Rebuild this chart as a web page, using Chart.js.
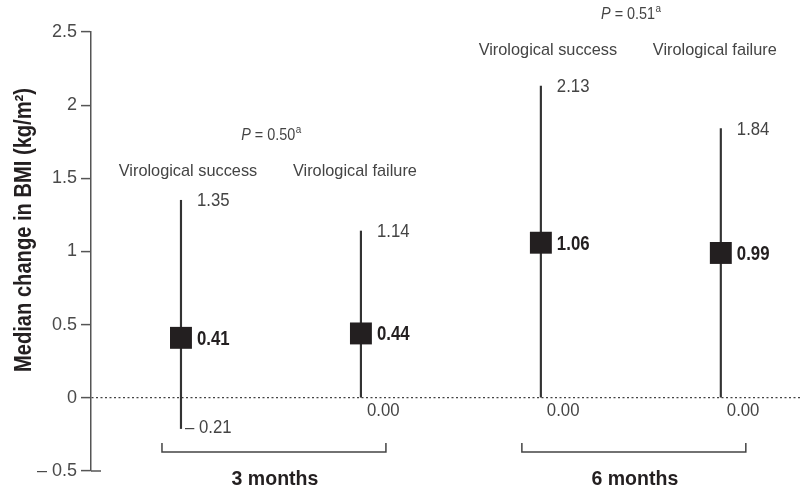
<!DOCTYPE html>
<html>
<head>
<meta charset="utf-8">
<script src="https://cdn.jsdelivr.net/npm/chart.js@4"></script>
<style>
  html, body { margin: 0; padding: 0; background: #ffffff; overflow: hidden; }
  #wrap { width: 800px; height: 489px; }
  canvas { display: block; }
</style>
</head>
<body>
<div id="wrap"><canvas id="c" width="800" height="489"></canvas></div>
<script>
// ---- data ----
const groups = ['3 months', '6 months'];
const categories = ['Virological success', 'Virological failure', 'Virological success', 'Virological failure'];
const groupOf = [0, 0, 1, 1];
const xPos = [1, 2, 3, 4];
const medians = [0.41, 0.44, 1.06, 0.99];
const lows = [-0.21, 0.00, 0.00, 0.00];
const highs = [1.35, 1.14, 2.13, 1.84];
const pValues = ['0.50', '0.51'];
const yTicks = [-0.5, 0, 0.5, 1, 1.5, 2, 2.5];
const yTitle = 'Median change in BMI (kg/m²)';

// ---- styles ----
const FAM = "'Liberation Sans', Arial, Helvetica, sans-serif";
const TXT = '#444444';
const INK = '#231f20';

function fmtTick(v) { return v < 0 ? '– ' + Math.abs(v) : String(v); }
function fmtVal(v) { return v < 0 ? '– ' + Math.abs(v).toFixed(2) : v.toFixed(2); }

function txt(ctx, s, x, y, o) {
  ctx.save();
  ctx.translate(x, y);
  if (o.rot) ctx.rotate(o.rot);
  ctx.scale(o.sx || 1, 1);
  ctx.font = (o.style || '') + ' ' + (o.weight || 'normal') + ' ' + o.size + 'px ' + FAM;
  ctx.fillStyle = o.color || TXT;
  ctx.textAlign = o.align || 'left';
  ctx.textBaseline = 'middle';
  ctx.fillText(s, 0, 0);
  const w = ctx.measureText(s).width * (o.sx || 1);
  ctx.restore();
  return w;
}
function measure(ctx, s, o) {
  ctx.save();
  ctx.font = (o.style || '') + ' ' + (o.weight || 'normal') + ' ' + o.size + 'px ' + FAM;
  const w = ctx.measureText(s).width * (o.sx || 1);
  ctx.restore();
  return w;
}

const annot = {
  id: 'annot',
  afterDraw(chart) {
    const ctx = chart.ctx;
    const xs = chart.scales.x, ys = chart.scales.y;
    ctx.save();
    // right extension of the bottom tick
    ctx.strokeStyle = '#555'; ctx.lineWidth = 1.5;
    const yb = ys.getPixelForValue(yTicks[0]);
    ctx.beginPath(); ctx.moveTo(chart.chartArea.left, yb); ctx.lineTo(chart.chartArea.left + 10, yb); ctx.stroke();

    const valO = { size: 21, weight: 'bold', sx: 0.8, color: INK };
    const numO = { size: 18, sx: 0.93, color: TXT };
    for (let i = 0; i < xPos.length; i++) {
      const px = xs.getPixelForValue(xPos[i]);
      txt(ctx, medians[i].toFixed(2), px + 16, ys.getPixelForValue(medians[i]) + 1, valO);
      txt(ctx, fmtVal(highs[i]), px + 16, ys.getPixelForValue(highs[i]) + 1, numO);
      if (lows[i] < 0) {
        txt(ctx, fmtVal(lows[i]), px + 4, ys.getPixelForValue(lows[i]) - 1, numO);
      } else {
        txt(ctx, fmtVal(lows[i]), px + 6, ys.getPixelForValue(lows[i]) + 13, numO);
      }
    }
    const catO = { size: 17, sx: 0.96, color: TXT, align: 'center' };
    for (let g = 0; g < groups.length; g++) {
      const idx = xPos.map((x, i) => i).filter(i => groupOf[i] === g);
      const x1 = xs.getPixelForValue(xPos[idx[0]]);
      const x2 = xs.getPixelForValue(xPos[idx[idx.length - 1]]);
      const top = ys.getPixelForValue(Math.max(...idx.map(i => highs[i])));
      const labY = top - (g === 0 ? 29 : 36);
      idx.forEach((i, k) => {
        const px = xs.getPixelForValue(xPos[i]);
        txt(ctx, categories[i], px + (k === 0 ? 7 : -6), labY, catO);
      });
      // P value
      const pY = labY - 36;
      const mid = (x1 + x2) / 2;
      const oI = { size: 16, style: 'italic', sx: 0.9 }, oN = { size: 16, sx: 0.9 }, oS = { size: 11, sx: 0.9 };
      const t2 = ' = ' + pValues[g];
      const w1 = measure(ctx, 'P', oI), w2 = measure(ctx, t2, oN), w3 = measure(ctx, 'a', oS);
      let sx = mid - (w1 + w2 + w3) / 2;
      txt(ctx, 'P', sx, pY, oI); sx += w1;
      txt(ctx, t2, sx, pY, oN); sx += w2;
      txt(ctx, 'a', sx + 0.5, pY - 5, oS);
      // bracket
      const bl = x1 - 19, br = x2 + 25, by = 452;
      ctx.strokeStyle = '#444'; ctx.lineWidth = 1.5;
      ctx.beginPath(); ctx.moveTo(bl, by - 9); ctx.lineTo(bl, by); ctx.lineTo(br, by); ctx.lineTo(br, by - 9); ctx.stroke();
      txt(ctx, groups[g], (bl + br) / 2 + 1, by + 27, { size: 21, weight: 'bold', sx: 0.93, color: INK, align: 'center' });
    }
    // y axis title
    txt(ctx, yTitle, 25, 230, { size: 23, weight: 'bold', sx: 0.875, color: INK, align: 'center', rot: -Math.PI / 2 });
    ctx.restore();
  }
};

new Chart(document.getElementById('c'), {
  type: 'scatter',
  data: {
    datasets: [
      {
        type: 'scatter',
        data: xPos.map((x, i) => ({ x: x, y: medians[i] })),
        pointStyle: 'rect',
        radius: 15.5,
        backgroundColor: INK,
        borderWidth: 0,
        order: 0
      },
      {
        type: 'bar',
        data: xPos.map((x, i) => ({ x: x, y: [lows[i], highs[i]] })),
        backgroundColor: '#333333',
        borderWidth: 0,
        barThickness: 1.5,
        grouped: false,
        order: 1
      }
    ]
  },
  options: {
    responsive: false,
    animation: false,
    layout: { autoPadding: false, padding: { top: 32, bottom: 18, left: 0, right: 0 } },
    plugins: { legend: { display: false }, tooltip: { enabled: false } },
    scales: {
      x: { type: 'linear', min: 0.5, max: 4.44, offset: false, display: false },
      y: {
        type: 'linear',
        min: -0.5, max: 2.5,
        afterBuildTicks: s => { s.ticks = yTicks.map(v => ({ value: v })); },
        afterFit: s => { s.width = 91; },
        ticks: {
          callback: v => fmtTick(v),
          color: '#4a4a4a',
          padding: 4,
          font: { family: FAM, size: 18 }
        },
        grid: {
          color: c => (c.tick && c.tick.value === 0) ? '#444' : 'rgba(0,0,0,0)',
          lineWidth: 1.2,
          tickLength: 10,
          tickColor: '#555',
          tickWidth: 1.5,
          tickBorderDash: []
        },
        border: { display: true, color: '#555', width: 1.5, dash: [2, 2.5] }
      }
    }
  },
  plugins: [annot]
});
</script>
</body>
</html>
